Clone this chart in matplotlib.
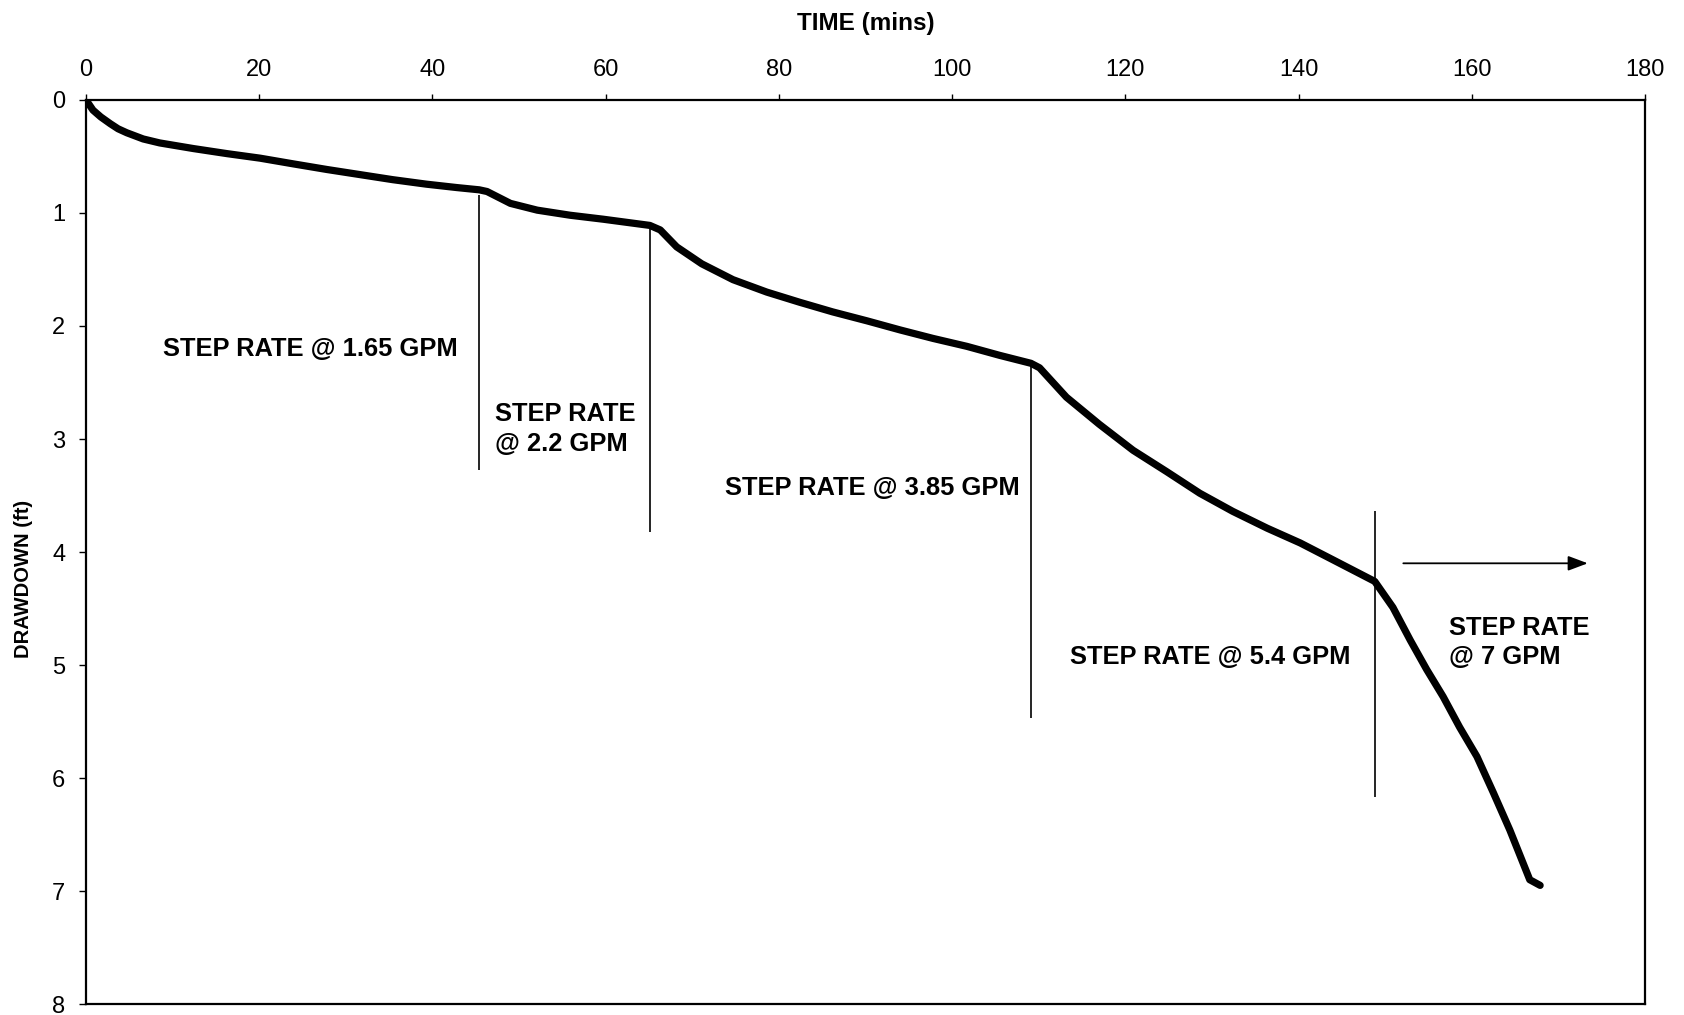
import matplotlib
matplotlib.use("Agg")
import matplotlib.pyplot as plt

plt.rcParams['font.family'] = ['Liberation Sans', 'DejaVu Sans']

# drawdown curve
time_min = [0, 0.8, 1.7, 2.8, 3.7, 4.7, 6.6, 8.5, 12.4, 16.3, 20.1, 23.9, 27.8, 31.6,
            35.4, 39.3, 42.8, 45.4, 46.3, 49.0, 52.1, 55.9, 59.7, 65.1, 66.3, 68.2,
            71.1, 74.7, 78.6, 82.4, 86.2, 90.2, 94.0, 97.8, 101.7, 105.5, 109.1,
            110.1, 113.2, 117.0, 120.9, 124.8, 128.6, 132.4, 136.4, 140.2, 144.0,
            148.8, 150.9, 152.9, 154.8, 156.7, 158.6, 160.6, 162.5, 164.4, 166.7,
            167.9]
drawdown_ft = [0, 0.09, 0.15, 0.21, 0.255, 0.29, 0.345, 0.38, 0.43, 0.475, 0.515,
               0.565, 0.615, 0.66, 0.705, 0.745, 0.775, 0.795, 0.81, 0.915, 0.975,
               1.02, 1.055, 1.11, 1.15, 1.30, 1.45, 1.59, 1.70, 1.79, 1.875, 1.955,
               2.035, 2.11, 2.18, 2.26, 2.33, 2.37, 2.63, 2.87, 3.10, 3.29, 3.48,
               3.64, 3.79, 3.92, 4.07, 4.26, 4.49, 4.78, 5.04, 5.28, 5.55, 5.81,
               6.13, 6.46, 6.90, 6.95]

# rate change markers
step_time = [45.4, 65.1, 109.1, 148.8]
step_top = [0.84, 1.13, 2.33, 3.64]
step_bottom = [3.27, 3.82, 5.47, 6.17]

label_text = ["STEP RATE @ 1.65 GPM", "STEP RATE\n@ 2.2 GPM", "STEP RATE @ 3.85 GPM",
              "STEP RATE @ 5.4 GPM", "STEP RATE\n@ 7 GPM"]
label_t = [8.9, 47.2, 73.8, 113.6, 157.4]
label_d = [2.20, 2.91, 3.43, 4.93, 4.80]

arrow_start = (152.1, 4.10)
arrow_end = (173.4, 4.10)

x_ticks = list(range(0, 181, 20))
y_ticks = list(range(0, 9))

fig = plt.figure(figsize=(16.84, 10.15), dpi=100)
ax = fig.add_axes([0.0511, 0.0108, 0.9257, 0.8907])

ax.plot(time_min, drawdown_ft, color='black', lw=5.2, solid_joinstyle='round',
        solid_capstyle='round')
ax.vlines(step_time, step_top, step_bottom, color='black', lw=1.2)

for txt, t, d in zip(label_text, label_t, label_d):
    ax.text(t, d, txt, fontsize=18.4, fontweight='bold', ha='left', va='center',
            linespacing=1.3)

ax.annotate('', xy=arrow_end, xytext=arrow_start,
            arrowprops=dict(arrowstyle='-|>,head_length=0.8,head_width=0.3',
                            mutation_scale=15, lw=1.3, color='black',
                            shrinkA=0, shrinkB=0))

ax.set_xlim(0, 180)
ax.set_ylim(8, 0)
ax.set_xticks(x_ticks)
ax.set_yticks(y_ticks)
ax.xaxis.tick_top()
ax.tick_params(axis='x', direction='out', length=4, width=1, labelsize=17, pad=10)
ax.tick_params(axis='y', direction='out', length=5, width=1, labelsize=17, pad=10)

ax.set_xlabel('TIME (mins)', fontsize=17.5, fontweight='bold')
ax.xaxis.set_label_position('top')
ax.xaxis.set_label_coords(0.5, 1.077)
ax.set_ylabel('DRAWDOWN (ft)', fontsize=14.5, fontweight='bold')
ax.yaxis.set_label_coords(-0.034, 0.47)

for sp in ax.spines.values():
    sp.set_linewidth(1.6)

fig.savefig('out.png', dpi=100)
